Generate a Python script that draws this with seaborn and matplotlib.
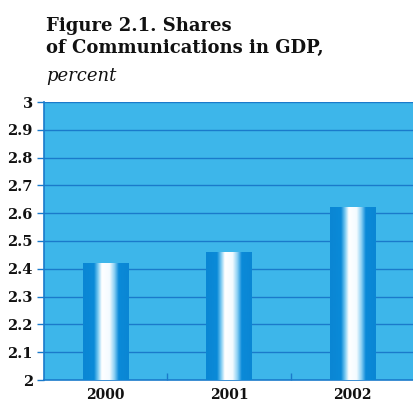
import numpy as np
import pandas as pd
import matplotlib
matplotlib.use("Agg")
import matplotlib.pyplot as plt
import seaborn as sns
from matplotlib.colors import LinearSegmentedColormap

years = ["2000", "2001", "2002"]
shares = [2.42, 2.46, 2.62]
yticks = [2.0, 2.1, 2.2, 2.3, 2.4, 2.5, 2.6, 2.7, 2.8, 2.9, 3.0]
ytick_labels = ["2", "2.1", "2.2", "2.3", "2.4", "2.5", "2.6", "2.7", "2.8", "2.9", "3"]

df = pd.DataFrame({"year": years, "share": shares})

sns.set_theme(style="white")
plt.rcParams["font.family"] = ["DejaVu Serif"]

W, H = 414, 403
fig = plt.figure(figsize=(W / 100, H / 100), dpi=100)
ax = fig.add_axes([44 / W, 1 - 380 / H, (W - 44) / W, (380 - 102) / H])

bg = "#3db6ea"
grid = "#1a7acb"
ax.set_facecolor(bg)

sns.barplot(data=df, x="year", y="share", ax=ax, width=0.37, color="#0b8ad6",
            linewidth=0, zorder=3)

ax.set_ylim(2.0, 3.0)
ax.set_xlim(-0.5, 2.5)
ax.set_yticks(yticks)
ax.set_yticklabels(ytick_labels)
for t in yticks[1:]:
    ax.axhline(t, color=grid, lw=1.0, zorder=1)

# gradient fill on bars
cmap = LinearSegmentedColormap.from_list("bar", [
    (0.0, "#0a86d4"), (0.24, "#0a8ad8"), (0.33, "#7ccbf2"), (0.41, "#ffffff"),
    (0.58, "#f4fbff"), (0.68, "#8fd2f4"), (0.78, "#0a8ad8"), (1.0, "#0a86d4")])
grad = np.linspace(0, 1, 256).reshape(1, -1)
for p in ax.patches:
    x0, y0 = p.get_x(), p.get_y()
    w, h = p.get_width(), p.get_height()
    ax.imshow(grad, cmap=cmap, aspect="auto", extent=[x0, x0 + w, y0, y0 + h],
              zorder=4, interpolation="bilinear")
ax.set_xlim(-0.5, 2.5)
ax.set_ylim(2.0, 3.0)

ax.set_xlabel("")
ax.set_ylabel("")
for s in ["top", "right"]:
    ax.spines[s].set_visible(False)
ax.spines["left"].set_color("#1a7acb")
ax.spines["bottom"].set_color("#1a7acb")
ax.spines["left"].set_linewidth(1.2)
ax.spines["bottom"].set_linewidth(1.2)

ax.set_xticks([0, 1, 2], minor=False)
ax.set_xticklabels(years)
ax.set_xticks([0.5, 1.5], minor=True)
ax.tick_params(axis="x", which="major", length=0, pad=6, labelsize=10, labelcolor="#111111")
ax.tick_params(axis="x", which="minor", bottom=True, length=5, color="#1a7acb", direction="in", width=1)
ax.tick_params(axis="y", left=True, length=5, color="#1a7acb", width=1, pad=3,
               labelsize=10.5, labelcolor="#111111")
for lab in ax.get_yticklabels() + ax.get_xticklabels():
    lab.set_fontweight("bold")

fig.text(46 / W, 1 - 31 / H, "Figure 2.1. Shares",
         ha="left", va="baseline", fontsize=13, fontweight="bold", color="#111111")
fig.text(46 / W, 1 - 53 / H, "of Communications in GDP,",
         ha="left", va="baseline", fontsize=13, fontweight="bold", color="#111111")
fig.text(46 / W, 1 - 81 / H, "percent", ha="left", va="baseline", fontsize=13,
         fontstyle="italic", color="#111111")

fig.savefig("out.png", dpi=100)
